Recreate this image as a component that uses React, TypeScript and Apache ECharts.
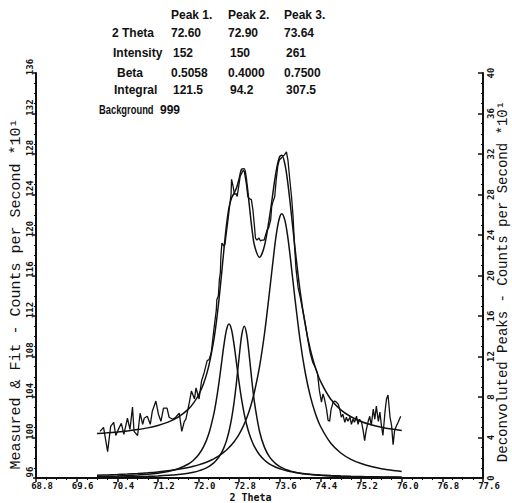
import React, { useEffect, useRef } from "react";
import * as echarts from "echarts";

// ---- table texts ----
const peakHeaders = ["Peak 1.", "Peak 2.", "Peak 3."];
const rowLabels = ["2 Theta", "Intensity", "Beta", "Integral"];
const peakTheta = ["72.60", "72.90", "73.64"];
const peakIntensity = ["152", "150", "261"];
const peakBeta = ["0.5058", "0.4000", "0.7500"];
const peakIntegral = ["121.5", "94.2", "307.5"];
const backgroundLabel = "Background";
const backgroundValue = "999";

// ---- measured data [2theta, counts/10] ----
const measuredPoints: [number, number][] = [
  [70.06, 100.6], [70.13, 101.0], [70.21, 98.6], [70.27, 101.1], [70.33, 101.5], [70.37, 100.2],
  [70.44, 101.0], [70.48, 101.4], [70.53, 100.3], [70.6, 101.9], [70.65, 100.8], [70.7, 103.0],
  [70.73, 100.6], [70.8, 100.2], [70.85, 102.4], [70.9, 101.3], [70.93, 101.9], [70.99, 102.1],
  [71.05, 101.3], [71.09, 102.6], [71.16, 103.6], [71.21, 102.3], [71.26, 101.6], [71.31, 102.9],
  [71.38, 102.9], [71.42, 102.0], [71.49, 101.8], [71.55, 102.0], [71.62, 102.4], [71.67, 100.6],
  [71.72, 101.6], [71.75, 101.8], [71.82, 103.5], [71.86, 104.6], [71.92, 103.8], [71.95, 104.9],
  [72.01, 103.8], [72.06, 105.6], [72.11, 106.4], [72.14, 107.0], [72.17, 107.6], [72.21, 107.7],
  [72.25, 108.4], [72.28, 109.7], [72.31, 111.0], [72.35, 112.6], [72.36, 113.6], [72.39, 114.0],
  [72.41, 115.6], [72.43, 116.3], [72.44, 117.9], [72.46, 119.2], [72.5, 118.9], [72.52, 119.1],
  [72.54, 119.9], [72.58, 121.5], [72.61, 122.8], [72.64, 124.0], [72.65, 125.5], [72.68, 124.8],
  [72.71, 124.0], [72.74, 124.1], [72.76, 123.8], [72.79, 124.8], [72.82, 125.8], [72.85, 126.1],
  [72.88, 126.4], [72.9, 126.3], [72.94, 125.1], [72.97, 123.8], [73.0, 123.6], [73.04, 123.5],
  [73.07, 122.5], [73.1, 120.9], [73.12, 119.7], [73.15, 119.5], [73.19, 119.7], [73.22, 119.4],
  [73.25, 119.5], [73.29, 119.5], [73.32, 120.0], [73.35, 120.5], [73.38, 120.7], [73.42, 121.5],
  [73.44, 122.8], [73.46, 123.2], [73.5, 123.8], [73.53, 125.5], [73.56, 126.8], [73.59, 127.4],
  [73.63, 127.6], [73.66, 127.8], [73.69, 127.9], [73.73, 128.2], [73.76, 127.4], [73.79, 125.8],
  [73.83, 123.8], [73.86, 121.9], [73.89, 118.9], [73.92, 116.6], [73.96, 114.8], [74.0, 113.9],
  [74.05, 112.6], [74.1, 111.3], [74.15, 109.7], [74.2, 108.3], [74.25, 107.4], [74.3, 106.9],
  [74.34, 106.4], [74.36, 105.5], [74.38, 104.6], [74.42, 103.5], [74.45, 104.3], [74.48, 103.8],
  [74.52, 102.8], [74.55, 101.7], [74.58, 101.6], [74.61, 102.8], [74.65, 103.5], [74.68, 103.6],
  [74.71, 103.5], [74.75, 103.3], [74.78, 102.8], [74.81, 102.0], [74.84, 102.3], [74.88, 101.5],
  [74.91, 102.0], [74.94, 101.6], [74.98, 102.0], [75.01, 101.3], [75.04, 101.8], [75.07, 101.5],
  [75.11, 102.1], [75.14, 101.3], [75.17, 101.8], [75.21, 101.5], [75.24, 100.7], [75.27, 99.7],
  [75.3, 100.7], [75.34, 101.6], [75.37, 102.1], [75.4, 101.2], [75.44, 102.8], [75.47, 101.8],
  [75.5, 103.1], [75.54, 101.6], [75.57, 102.5], [75.6, 101.2], [75.63, 100.2], [75.67, 102.5],
  [75.7, 103.8], [75.73, 104.2], [75.77, 102.0], [75.8, 101.2], [75.83, 99.3], [75.86, 100.7],
  [75.9, 101.2], [75.93, 101.5], [75.98, 102.1],
];

// ---- fit and deconvoluted peaks, read on a common 2theta grid ----
const gridTheta = [
  70.0, 70.2, 70.4, 70.6, 70.8, 71.0, 71.2, 71.4, 71.6, 71.8,
  71.9, 72.0, 72.1, 72.2, 72.3,
  72.35, 72.4, 72.45, 72.5, 72.55, 72.6, 72.65, 72.7, 72.75, 72.8, 72.85, 72.9, 72.95, 73.0, 73.05, 73.1,
  73.2, 73.3, 73.4, 73.5,
  73.55, 73.6, 73.64, 73.7, 73.75, 73.8,
  73.9, 74.0, 74.1, 74.2, 74.3, 74.4,
  74.6, 74.8, 75.0, 75.2, 75.4, 75.6, 75.8, 76.0,
];
const fitCounts = [
  100.39, 100.46, 100.54, 100.64, 100.78, 100.95, 101.19, 101.52, 102.01, 102.8,
  103.39, 104.2, 105.34, 107.03, 109.61,
  111.37, 113.51, 115.98, 118.59, 120.98, 122.72, 123.66, 124.13, 124.68, 125.59, 126.51, 126.55, 125.18, 122.91, 120.66, 118.99,
  117.79, 118.98, 121.87, 125.42,
  126.88, 127.76, 127.87, 127.0, 125.42, 123.33,
  118.66, 114.44, 111.15, 108.7, 106.9, 105.57,
  103.8, 102.73, 102.05, 101.58, 101.25, 101.01, 100.83, 100.69,
];
const peak1 = [
  0.142, 0.167, 0.198, 0.239, 0.294, 0.37, 0.48, 0.646, 0.914, 1.381,
  1.755, 2.293, 3.096, 4.34, 6.315,
  7.688, 9.351, 11.244, 13.145, 14.628, 15.2, 14.628, 13.145, 11.244, 9.351, 7.688, 6.315, 5.214, 4.34, 3.649, 3.096,
  2.293, 1.755, 1.381, 1.113,
  1.006, 0.914, 0.849, 0.763, 0.701, 0.646,
  0.554, 0.48, 0.42, 0.37, 0.329, 0.294,
  0.239, 0.198, 0.167, 0.142, 0.123, 0.107, 0.094, 0.084,
];
const peak2 = [
  0.071, 0.082, 0.095, 0.113, 0.135, 0.164, 0.205, 0.262, 0.347, 0.48,
  0.577, 0.706, 0.882, 1.132, 1.5,
  1.752, 2.069, 2.474, 3.0, 3.692, 4.615, 5.854, 7.5, 9.6, 12.0, 14.118, 15.0, 14.118, 12.0, 9.6, 7.5,
  4.615, 3.0, 2.069, 1.5,
  1.297, 1.132, 1.021, 0.882, 0.787, 0.706,
  0.577, 0.48, 0.405, 0.347, 0.3, 0.262,
  0.205, 0.164, 0.135, 0.113, 0.095, 0.082, 0.071, 0.062,
];
const peak3 = [
  0.274, 0.307, 0.345, 0.391, 0.447, 0.516, 0.602, 0.712, 0.853, 1.041,
  1.158, 1.297, 1.461, 1.657, 1.895,
  2.034, 2.188, 2.358, 2.549, 2.762, 3.003, 3.275, 3.584, 3.935, 4.337, 4.8, 5.333, 5.951, 6.67, 7.511, 8.491,
  10.98, 14.32, 18.52, 22.91,
  24.68, 25.81, 26.1, 25.45, 24.03, 22.08,
  17.63, 13.58, 10.42, 8.08, 6.37, 5.11,
  3.455, 2.469, 1.844, 1.425, 1.133, 0.922, 0.764, 0.643,
];

const leftAxisName = "Measured & Fit - Counts per Second *10\u00b9";
const rightAxisName = "Deconvoluted Peaks - Counts per Second *10\u00b9";
const xAxisName = "2 Theta";

// ---- layout constants ----
const COL_X = [171, 228, 284];
const LABEL_X = [112, 113, 117, 114];
const ROW_Y = [33, 53, 73, 90];
const HEADER_Y = 15;

const INK = "#111";
const tableFont = { fontFamily: '"Liberation Sans", Arial, sans-serif', fontSize: 12, fontWeight: "bold" as const };
const tickFont = { fontFamily: '"DejaVu Sans Mono", monospace', fontSize: 9, fontWeight: "bold" as const, color: INK };

function zip(xs: number[], ys: number[]) {
  return xs.map((x, i) => [x, ys[i]]);
}

export default function App() {
  const ref = useRef<HTMLDivElement>(null);
  useEffect(() => {
    if (!ref.current) return;
    const chart = echarts.init(ref.current, null, { renderer: "svg" });

    const graphic: any[] = [];
    const txt = (text: string, x: number, y: number, scaleX = 1) =>
      graphic.push({
        type: "text",
        x,
        y,
        scaleX,
        style: { text, fill: INK, verticalAlign: "middle", ...tableFont },
      });
    peakHeaders.forEach((h, i) => txt(h, COL_X[i], HEADER_Y));
    const rows = [peakTheta, peakIntensity, peakBeta, peakIntegral];
    rowLabels.forEach((lab, r) => {
      txt(lab, LABEL_X[r], ROW_Y[r]);
      rows[r].forEach((v, i) => txt(v, COL_X[i] + (r === 0 || r === 2 ? 0 : 2), ROW_Y[r]));
    });
    txt(backgroundLabel, 99, 110, 0.78);
    txt(backgroundValue, 160, 110);

    const lineBase = {
      type: "line",
      showSymbol: false,
      symbol: "none",
      silent: true,
      animation: false,
    };

    chart.setOption({
      animation: false,
      grid: { left: 36, right: 29, top: 73, bottom: 25, containLabel: false, outerBoundsMode: "none" },
      xAxis: {
        type: "value",
        min: 68.8,
        max: 77.6,
        interval: 0.8,
        name: xAxisName,
        nameLocation: "middle",
        nameGap: 14,
        nameMoveOverlap: false,
        nameTextStyle: {
          fontFamily: '"DejaVu Sans Mono", monospace',
          fontSize: 10,
          fontWeight: "bold",
          color: INK,
          padding: [0, 18, 0, 0],
        },
        axisLine: { show: true, onZero: false, lineStyle: { color: INK, width: 2 } },
        axisTick: { show: true, inside: false, length: 4, lineStyle: { color: INK, width: 1.5 } },
        minorTick: { show: true, splitNumber: 4, length: 2, lineStyle: { color: INK, width: 1 } },
        splitLine: { show: false },
        axisLabel: {
          ...tickFont,
          margin: 3,
          padding: [0, 0, 0, 12],
          formatter: (v: number) => v.toFixed(1),
        },
      },
      yAxis: [
        {
          type: "value",
          position: "left",
          min: 96,
          max: 136,
          interval: 4,
          name: leftAxisName,
          nameLocation: "middle",
          nameRotate: 90,
          nameGap: 12,
          nameMoveOverlap: false,
          nameTextStyle: {
            fontFamily: '"Liberation Mono", monospace',
            fontSize: 15,
            color: INK,
            padding: [0, 37, 0, 0],
          },
          axisLine: { show: true, onZero: false, lineStyle: { color: INK, width: 2 } },
          axisTick: { show: true, inside: false, length: 3, lineStyle: { color: INK, width: 1.5 } },
          minorTick: { show: true, splitNumber: 4, length: 2, lineStyle: { color: INK, width: 1 } },
          splitLine: { show: false },
          axisLabel: { ...tickFont, rotate: 90, margin: 2, padding: [0, 0, 0, 12] },
        },
        {
          type: "value",
          position: "right",
          min: 0,
          max: 40,
          interval: 4,
          name: rightAxisName,
          nameLocation: "middle",
          nameRotate: 90,
          nameGap: 13,
          nameMoveOverlap: false,
          nameTextStyle: {
            fontFamily: '"Liberation Mono", monospace',
            fontSize: 14,
            color: INK,
            padding: [0, 12, 0, 0],
          },
          axisLine: { show: true, onZero: false, lineStyle: { color: INK, width: 2 } },
          axisTick: { show: true, inside: true, length: 5, lineStyle: { color: INK, width: 1.5 } },
          minorTick: { show: true, splitNumber: 4, length: 2, lineStyle: { color: INK, width: 1 } },
          splitLine: { show: false },
          axisLabel: { ...tickFont, rotate: 90, margin: 3 },
        },
      ],
      series: [
        {
          ...lineBase,
          name: "Measured",
          yAxisIndex: 0,
          data: measuredPoints,
          lineStyle: { color: INK, width: 1.3 },
        },
        {
          ...lineBase,
          name: "Fit",
          yAxisIndex: 0,
          smooth: 0.3,
          data: zip(gridTheta, fitCounts),
          lineStyle: { color: INK, width: 1.5 },
        },
        {
          ...lineBase,
          name: "Peak 1",
          yAxisIndex: 1,
          smooth: 0.3,
          data: zip(gridTheta, peak1),
          lineStyle: { color: INK, width: 1.5 },
        },
        {
          ...lineBase,
          name: "Peak 2",
          yAxisIndex: 1,
          smooth: 0.3,
          data: zip(gridTheta, peak2),
          lineStyle: { color: INK, width: 1.5 },
        },
        {
          ...lineBase,
          name: "Peak 3",
          yAxisIndex: 1,
          smooth: 0.3,
          data: zip(gridTheta, peak3),
          lineStyle: { color: INK, width: 1.5 },
        },
      ],
      graphic,
    });
    return () => chart.dispose();
  }, []);
  return (
    <div
      ref={ref}
      style={{ position: "absolute", left: 0, top: 0, width: 512, height: 503, background: "#fff" }}
    />
  );
}
